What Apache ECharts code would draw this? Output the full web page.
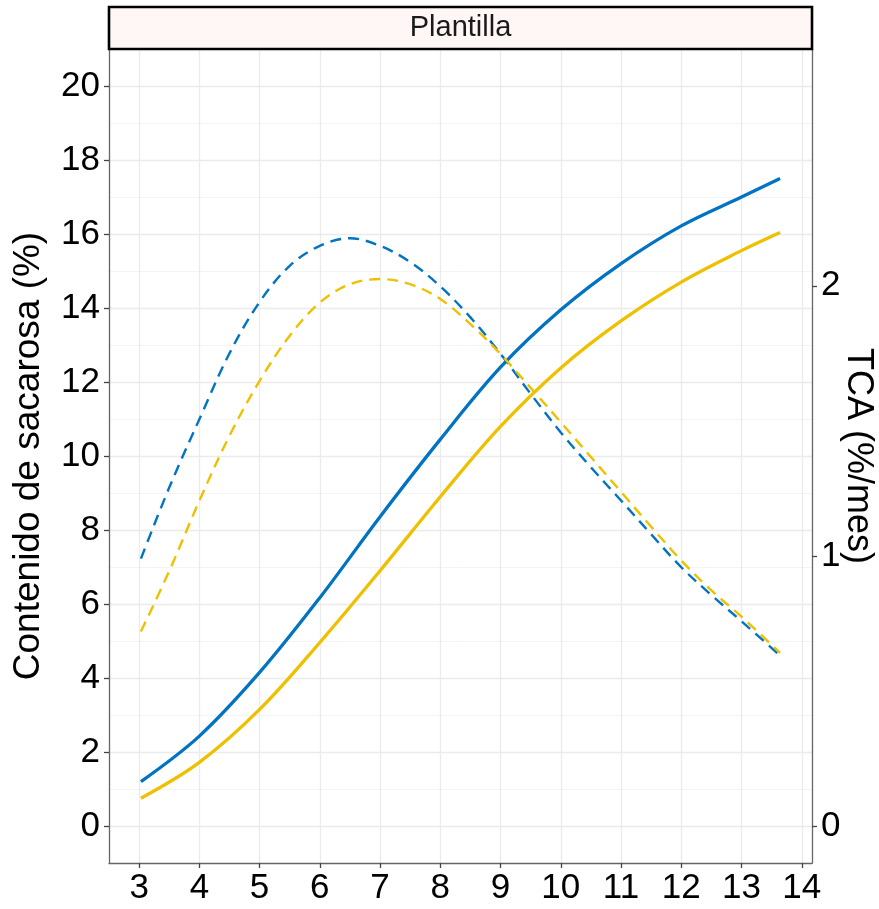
<!DOCTYPE html>
<html>
<head>
<meta charset="utf-8">
<script src="https://cdn.jsdelivr.net/npm/echarts@6/dist/echarts.min.js"></script>
<style>
html,body{margin:0;padding:0;background:#fff;}
#chart{width:879px;height:909px;}
</style>
</head>
<body>
<div id="chart"></div>
<script>
// ---- data ----
const panelTitle = 'Plantilla';
const xTicks = [3,4,5,6,7,8,9,10,11,12,13,14];
const yLeftTicks = [0,2,4,6,8,10,12,14,16,18,20];
const yRightTicks = [0,1,2];

// sucrose content (%), left axis
const xSolid = [3.03, 4, 5, 6, 7, 8, 9, 10, 11, 12, 13, 13.64];
const sacBlue   = [1.2, 2.43, 4.15, 6.17, 8.36, 10.45, 12.4, 13.95, 15.2, 16.22, 17.0, 17.5];
const sacYellow = [0.75, 1.72, 3.15, 4.96, 6.9, 8.9, 10.8, 12.38, 13.65, 14.7, 15.55, 16.04];

// TCA (%/mes), right axis
const xDash = [3.03, 3.5, 4, 4.5, 5, 5.5, 6, 6.5, 7, 7.5, 8, 8.5, 9, 9.5, 10, 10.5, 11, 11.5, 12, 12.5, 13, 13.64];
const tcaBlue   = [0.99, 1.253, 1.506, 1.75, 1.94, 2.074, 2.148, 2.176, 2.148, 2.088, 1.998, 1.883, 1.748, 1.600, 1.457, 1.328, 1.205, 1.08, 0.958, 0.855, 0.758, 0.631];
const tcaYellow = [0.72, 0.944, 1.204, 1.445, 1.648, 1.815, 1.938, 2.006, 2.025, 2.006, 1.951, 1.858, 1.747, 1.622, 1.495, 1.366, 1.237, 1.108, 0.983, 0.872, 0.775, 0.641];

const secFactor = 7.3; // right = left / 7.3
const yMin = -1, yMax = 21;
const xMin = 2.5, xMax = 14.17;

// ---- layout ----
const G = {left:109, right:67, top:49, bottom:46};
const W = 879;
const FONT = 'Liberation Sans, Arial, sans-serif';
const BLUE = '#0073C2', YELLOW = '#EFC000';

const zip = (xs, ys) => xs.map((x, i) => [x, ys[i]]);

const chart = echarts.init(document.getElementById('chart'), null, {renderer:'canvas'});
chart.setOption({
  animation: false,
  backgroundColor: '#fff',
  grid: {left:G.left, right:G.right, top:G.top, bottom:G.bottom, containLabel:false, outerBoundsMode:'none'},
  graphic: [{
    type:'rect', z:10,
    shape:{x:G.left, y:7, width:W-G.left-G.right, height:G.top-7},
    style:{fill:'#FFF7F5', stroke:'#000', lineWidth:2.6}
  },{
    type:'text', z:11,
    x:(G.left + W - G.right)/2, y:(7+G.top)/2,
    style:{text:panelTitle, font:'29px '+FONT, fill:'#1a1a1a', align:'center', verticalAlign:'middle'}
  }],
  xAxis: {
    type:'value', min:xMin, max:xMax,
    axisLine:{show:true, onZero:false, lineStyle:{color:'#666', width:1.3}},
    axisTick:{show:true, length:5, customValues:xTicks, lineStyle:{color:'#444', width:1.3}},
    axisLabel:{customValues:xTicks, color:'#000', fontSize:35, fontFamily:FONT, margin:8},
    splitLine:{show:true, lineStyle:{color:'#EBEBEB', width:1.3}}
  },
  yAxis: [{
    type:'value', min:yMin, max:yMax, interval:1, position:'left',
    axisLine:{show:true, onZero:false, lineStyle:{color:'#666', width:1.3}},
    axisTick:{show:false}, axisLabel:{show:false},
    splitLine:{show:true, lineStyle:{color:'#F4F4F4', width:1}}
  },{
    type:'value', min:yMin, max:yMax, position:'left',
    axisLine:{show:false},
    axisTick:{show:true, length:5, customValues:yLeftTicks, lineStyle:{color:'#444', width:1.3}},
    axisLabel:{customValues:yLeftTicks, color:'#000', fontSize:35, fontFamily:FONT, margin:9},
    splitLine:{show:true, lineStyle:{color:'#EBEBEB', width:1.3}},
    name:'Contenido de sacarosa (%)', nameLocation:'middle', nameGap:62, nameRotate:90,
    nameMoveOverlap:false,
    nameTextStyle:{color:'#000', fontSize:37, fontFamily:FONT}
  },{
    type:'value', min:yMin/secFactor, max:yMax/secFactor, position:'right',
    axisLine:{show:true, onZero:false, lineStyle:{color:'#666', width:1.3}},
    axisTick:{show:true, length:5, customValues:yRightTicks, lineStyle:{color:'#444', width:1.3}},
    axisLabel:{customValues:yRightTicks, color:'#000', fontSize:35, fontFamily:FONT, margin:9},
    splitLine:{show:false},
    name:'TCA (%/mes)', nameLocation:'middle', nameGap:28, nameRotate:-90,
    nameMoveOverlap:false,
    nameTextStyle:{color:'#000', fontSize:36, fontFamily:FONT}
  }],
  series: [
    {type:'line', yAxisIndex:1, data:zip(xSolid, sacBlue), smooth:0.35, showSymbol:false,
     lineStyle:{color:BLUE, width:3.3}, z:3},
    {type:'line', yAxisIndex:1, data:zip(xSolid, sacYellow), smooth:0.35, showSymbol:false,
     lineStyle:{color:YELLOW, width:3.3}, z:3},
    {type:'line', yAxisIndex:2, data:zip(xDash, tcaBlue), smooth:0.35, showSymbol:false,
     lineStyle:{color:BLUE, width:2.4, type:[11,7]}, z:4},
    {type:'line', yAxisIndex:2, data:zip(xDash, tcaYellow), smooth:0.35, showSymbol:false,
     lineStyle:{color:YELLOW, width:2.4, type:[11,7]}, z:4}
  ]
});
</script>
</body>
</html>
